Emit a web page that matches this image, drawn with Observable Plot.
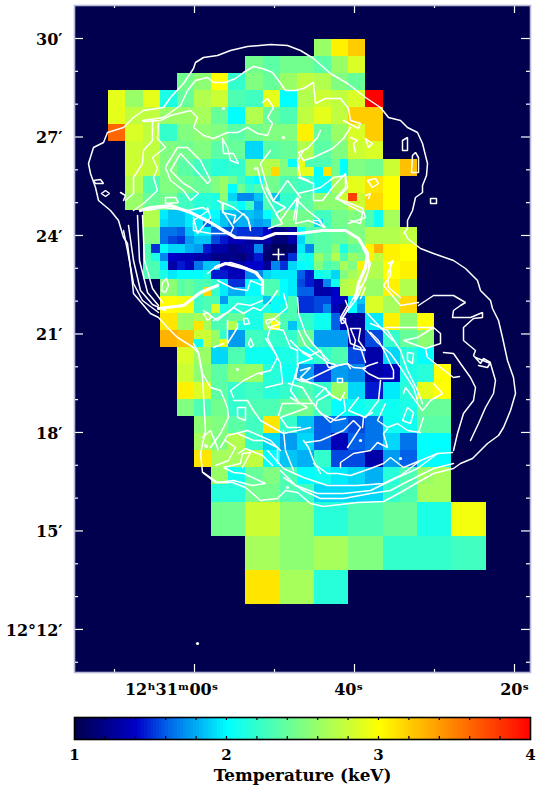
<!DOCTYPE html>
<html><head><meta charset="utf-8">
<script src="https://cdn.jsdelivr.net/npm/d3@7"></script>
<script src="https://cdn.jsdelivr.net/npm/@observablehq/plot@0.6"></script>
<style>html,body{margin:0;padding:0;background:#fff}svg{display:block}</style>
</head><body><div id="chart"></div>
<script>
// Temperature scale (keV)
const tempStops = [1, 1.2, 1.4, 1.6, 2, 2.5, 3, 3.5, 4];
const tempColors = ["#00004e", "#000088", "#0000c8", "#0060e8", "#00ffff", "#80ff80", "#ffff00", "#ff8000", "#ff0000"];
const barTicks = [1.2,1.4,1.6,1.8,2,2.2,2.4,2.6,2.8,3,3.2,3.4,3.6,3.8];
const barLabels = [1,2,3,4];

// Axis ticks: RA seconds past 12h30m, Dec arcminutes past 12 deg
const raMajor = [60, 40, 20];
const raMinor = [70, 50, 30];
const raText = ["12ʰ31ᵐ00ˢ", "40ˢ", "20ˢ"];
const raTextShift = [-23, -6, 0];
const decMajor = [30, 27, 24, 21, 18, 15, 12];
const decMinor = [29,28,26,25,23,22,20,19,17,16,14,13,11];
const decText = ["30′","27′","24′","21′","18′","15′","12°12′"];

// Spectral map bins: [row, first column, bin size, temperatures along the row]
const wideBins = [
 [0,12,1,[2.6,3.05,3.2]],
 [1,8,1,[2.45,2.35,2.45,2.45,2.35,2.6,2.85]],
 [2,4,1,[2.45,2.55,3.0,2.2,2.5,2.4,2.6,2.75,2.7,2.5,2.4]],
 [3,0,1,[2.9,2.6,2.9,2.1,2.4,2.7,2.8,2.3,2.25,2.9,2.0,2.7,2.8,2.75,2.85,4.0]],
 [4,0,1,[2.9,2.75,2.75,2.6,2.6,2.65,2.4,2.0,2.7,2.4,2.3,2.75,2.9,2.75,3.2,3.2]],
 [5,0,1,[3.6,2.85,2.75,2.2,2.5,2.55,2.5,2.35,2.45,2.5,2.5,3.05,2.4,2.6,2.85,3.2]],
 [6,1,1,[2.8,2.75,2.5,2.45,2.5,2.35,2.4,1.9,2.35,2.4,2.7,2.35,2.5,2.8,2.85]],
 [7,1,1,[2.8,2.75,2.5,2.35,2.25,2.15,2.2,2.6,2.7,2.5,2.9,2.3,2.45,2.5,2.45,2.8,3.25]],
 [8,1,1,[2.7,2.3,2.5,2.45,2.4,2.5,2.45,2.25,2.45,2.3,2.25,2.05,2.65,2.9,3.1,3.0]],
 [9,1,1,[2.6,2.4,2.45,2.25,2.15]],
 [9,10,1,[2.2,2.35,2.55,2.55,2.8,3.15,3.0]],
 [10,2,1,[2.7]],
 [10,10,1,[2.5,2.45,2.25,2.45,2.5]],
 [10,16,1,[2.65]],
 [11,2,1,[2.5]],
 [11,12,1,[2.35,2.4,2.5,2.7,2.7,2.75]],
 [12,16,1,[3.05,3.0]],
 [13,2,1,[2.3]],
 [13,15,1,[2.7,3.0,3.05]],
 [14,15,1,[2.6,3.05,2.7]],
 [15,3,1,[3.0,2.95]],
 [15,7,1,[2.15,2.1,2.3,2.1]],
 [15,15,1,[2.85,2.65,3.15]],
 [16,3,1,[3.1,2.6,2.65,2.3,2.4,2.1,2.6,2.3,2.2,2.05]],
 [16,14,1,[1.25,1.95,3.05,2.55,3.0]],
 [17,3,1,[3.3,3.25,2.8,2.6,1.75,2.25,2.2,2.2,2.4,1.75,1.75,1.25,1.55,2.2,2.4,2.55]],
 [18,4,1,[2.85,2.6,1.9,2.3,2.05,2.05,2.1,2.05,2.2,2.3,1.55,1.3,1.9,2.15,2.0]],
 [19,4,1,[2.8,2.55,2.35,2.55,2.6,2.15,2.05,1.75,1.5,1.75,1.7,1.3,1.35,2.1,2.15,3.0]],
 [20,4,1,[3.05,2.85,2.35,2.2,2.25,2.15,2.2,2.3,2.2,2.6,1.9,1.45,1.95,2.15,2.9,3.0]],
 [21,4,1,[2.5,2.3,2.45,2.2,2.3,2.3,2.4,2.45,2.25,2.0,2.05,2.1,2.05,2.1,2.4,2.4]],
 [22,5,1,[2.55,2.5,2.35,2.25,3.1,2.2,1.85,1.6,1.65,1.55,1.65,2.05,2.05,2.35,2.35]],
 [23,5,1,[2.65,2.5,2.7,2.2,1.9,1.75,1.9,1.6,1.35,1.6,1.65,1.9,1.65,2.0,2.0]],
 [24,5,1,[3.1,2.65,2.65,2.75,2.0,1.85,1.8,2.2,1.55,1.55,1.3,1.75,1.6,2.0,2.0]],
 [25,6,1,[2.6,2.05,2.4,2.5,2.3,2.0,2.05,1.95,1.9,1.8,2.15,2.3,2.6,2.65]],
 [26,6,1,[2.15,2.15,2.45,2.45,2.3,2.25,1.9,1.9,1.9,1.9,2.2,2.3,2.65,2.65]]
];
const largeBins = [
 [27,6,2,[2.45,2.8,2.55,2.15,2.3,2.4,2.1,2.95]],
 [29,8,2,[2.65,2.55,2.65,2.5,2.2,2.2,2.25]],
 [31,8,2,[3.1,2.65,2.15]]
];
const fineBins = [
 [7.5,9.5,.5,[3.15]],[7,10.5,.5,[2.0]],[7,11,.5,[2.9,2.3]],[7.5,12,.5,[2.0,3.1]],[7,13.5,.5,[2.0]],[7.5,13.5,.5,[2.0]],
 [8,6.5,.5,[2.6]],[8.5,6.5,.5,[2.6]],[8,7,.5,[2.45,2.25,2.1,2.0]],[8.5,7,.5,[2.0,2.45,2.2,2.3]],
 [9,6,.5,[2.1,2.55,1.9,1.7,1.7,1.85,2.3,1.85]],[9.5,6,.5,[2.1,2.3,2.15,2.0,2.25,1.75,2.3,2.2]],
 [9,14,.5,[3.75]],[9,13.5,.5,[2.8]],
 [10,3,.5,[1.95,1.85,1.85,1.95,1.95,2.0,2.0,1.85,1.85,1.8,1.85,1.8,2.0,2.2]],
 [10.5,3,.5,[1.9,1.85,1.85,1.95,1.95,1.6,1.95,1.85,1.75,1.8,1.8,1.75,1.8,2.35]],
 [10.5,12,.5,[1.9]],[10,15,.5,[2.3,2.05]],[10.5,15,.5,[2.3,2.05]],
 [11,3,.5,[1.65,1.65,1.6,1.85,1.95,1.95,1.6,1.55,1.55,1.5,1.5,1.5,1.4,1.2,1.2,1.3,2.0,2.3]],
 [11.5,3,.5,[1.65,1.55,1.5,1.75,1.85,1.85,1.55,1.45,1.35,1.35,1.25,1.25,1.3,1.15,1.15,1.3,1.9,2.3]],
 [12,2,.5,[2.3,1.5,2.0,1.9,1.9,1.8,1.75,1.45,1.3,1.3,1.2,1.25,1.3,1.7,1.15,1.05,1.05,1.1,1.95,1.7]],
 [12.5,2,.5,[2.3,2.1,1.7,1.4,1.35,1.35,1.3,1.3,1.2,1.2,1.2,1.15,1.25,1.45,1.1,1.05,1.15,1.5,2.1,2.05]],
 [12,12,.5,[2.35,2.35,2.55,2.1,2.35,2.4,3.05,3.3]],[12.5,12,.5,[2.6,2.4,2.7,2.3,2.6,2.5,3.05,2.75]],
 [13,3,.5,[1.95,1.3,1.45,1.35,1.65,1.85,1.85,1.35,1.3,1.3,1.4,1.4,1.25,1.7,1.5,1.9,2.0,2.05,2.5,2.3,2.35,2.65,2.5,3.05]],
 [13.5,3,.5,[2.1,1.95,2.0,2.0,2.0,2.1,1.45,1.45,1.35,1.35,1.7,1.7,1.9,1.95,1.95,1.95,1.6,1.45,2.05,2.1,1.9,2.5,2.65,2.75]],
 [14,3,.5,[2.55,2.55,2.35,2.4,2.3,2.3,2.2,1.95,1.5,1.5,2.0,2.0,2.3,2.3,2.0,1.95,1.55,1.45,1.3,1.7,2.05,2.7,2.75,2.75]],
 [14.5,3,.5,[2.55,2.55,2.35,2.4,2.3,3.15,2.2,1.95,1.8,1.8,2.0,2.0,2.3,2.3,2.0,1.95,1.6,1.6,1.3,1.3,1.4,2.7,2.75,2.75]],
 [15,5,.5,[2.25,2.3,2.3,1.75]],[15.5,5,.5,[2.25,2.3,2.85,2.1]],
 [15,9,.5,[1.85,2.05,2.0,2.3,1.5,1.5,1.55,1.55,1.4,1.35,2.0,1.85]],
 [15.5,9,.5,[2.1,2.0,2.1,2.3,1.5,1.5,1.55,1.7,1.35,1.2,2.0,1.75]],
 [16,13,.5,[1.6,1.3]],[16.5,13,.5,[1.6,1.3]],[16.5,5,.5,[3.1]],[16.5,7,.5,[2.7,2.1]],[16.5,9.5,.5,[3.0]],[16.5,10.5,.5,[1.85]],
 [17.5,5,.5,[2.05]],[17,6.5,.5,[2.2]],[17.5,6.5,.5,[2.9]]
];

// Contours: flat x,y lists in the pixel coordinates of the scanned map
const thickContours = [
 [140,210,150,207,170,205,190,212,210,222,218,227,235,237,262,238,275,233,298,233,322,230,345,230,358,238,367,253,365,267,358,283,355,298],
 [158,308,183,305,200,292,217,285],[215,267,225,263,245,268,255,272,262,280,262,293]
];
const contours = [
 [193,68,195,62,203,57,217,55,230,50,247,46,270,44,287,45,300,50,313,58,330,73,347,83,365,97,380,107,388,117,400,120,407,127,417,132,422,143,427,163,426,175,422,185,422,192,415,197,412,210,407,220,407,228,403,233,405,233,407,238,420,248,433,253,453,260,465,268,477,280,480,290,490,300,492,308,498,320,502,337,507,360,513,377,515,393,510,410,503,427,498,435,487,443,472,458,460,463,453,468,433,473,417,482,400,492,383,501,357,502,323,506,310,503,297,492,285,490,277,498,260,500,245,487,232,482,215,482,202,472,200,453,205,430,202,377,198,353,193,347,177,337,167,327,158,317,150,313,133,293,132,283,127,243,123,237,118,220,110,210,98,200,95,187,90,173,88,163,93,147,103,142,107,132,123,127,133,117,143,110,163,107,170,97,183,83,193,68],
 [142,120,163,117,180,105,187,90,195,80,207,77,213,82,225,82,235,78,243,72,253,66,262,68,272,72,278,80,285,90,295,90,303,88,313,82,315,103,325,98,340,98,348,108,350,120,360,123,358,128,343,120],
 [143,121,160,120,170,115,190,110,197,117,193,127,203,135,213,138,227,132,237,132,247,127,257,133,267,135,272,123,267,117,273,107,267,98,262,102],
 [152,120,152,140,143,150,142,163,133,177,133,193,125,200],
 [158,123,157,138,165,147,152,157,157,168,153,177,157,190,143,203,133,210],
 [167,163,177,147,187,147,200,160,210,180,207,183,193,167,180,153,170,170,183,183,190,187,198,193,190,200,183,190,170,180,165,167,167,163],
 [165,197,175,197,178,202,165,203,165,197],
 [222,138,223,153,233,153,238,163,230,160,227,147,222,138],
 [270,150,260,163,267,187,273,200,287,180,300,197],
 [147,210,163,207,187,210,202,207,208,210,193,220,193,230,210,233,230,233,233,227,222,210,222,202,233,207,247,217,250,227],
 [320,130,317,137,307,148,298,152,303,160,313,157,332,148,343,138,350,127],
 [402,140,407,137,407,150,402,150,402,140],[412,155,415,152,418,157,418,172,411,172,412,155],[430,198,436,198,436,203,430,203,430,198],
 [350,137,357,140,353,143,355,152],[365,138,372,143,368,147,365,138],
 [297,193,310,190,320,187,333,177,345,175,347,187,337,198,345,203,362,212,360,223,350,220],
 [367,180,375,178,378,183,372,187,367,180],[365,195,370,193,368,198],[297,200,307,210,320,220,323,227],
 [123,230,127,250,133,283,142,300,158,312],[128,225,133,260,140,290,152,304,165,310],[137,215,139,260,147,292,158,305],[142,215,144,260,152,288,162,302],
 [93,180,100,179,103,183,95,183,93,180],[101,193,105,190,109,193,105,196,101,193],[120,192,125,195,123,200],
 [217,265,230,262,240,265,257,272,260,278],[207,273,217,265],
 [358,237,368,253,368,270,362,285,357,297,345,313,340,320],[362,247,370,263,365,280,355,293,348,307,342,318],
 [370,323,387,330,400,350,407,370,417,390,422,403],[367,330,377,342,390,353,400,367,413,387,417,400],
 [418,305,433,295,453,295,465,302,460,305,453,310,452,317,470,317,482,312,482,317,473,318,463,327,463,340,475,350,473,355,480,363,483,358,490,362,487,367,478,365],
 [385,327,407,327,433,327,440,333,440,343,425,348,403,340,417,337,433,327],
 [425,348,427,357,440,367,453,377,459,376],[443,352,453,353,460,363,470,377,475,387,473,400,463,413,457,433,453,450],
 [475,357,490,363,495,380,493,393,485,407,478,423,470,440],
 [203,472,217,482,233,480,252,485,265,483,243,473,233,472,223,467,240,463,242,453,250,452,242,467],
 [280,470,295,485,317,493,343,493,370,490,397,477,417,468,437,453,452,452],
 [283,477,303,490,320,498,343,498,370,493,390,490,403,483,433,468,453,463],
 [267,450,283,468,303,477,327,485,357,485,383,483,400,475,420,460,437,453],
 [313,463,327,473,337,473,350,475,370,468,383,463,390,457,403,467,420,460],
 [340,467,340,462,353,453,370,450,377,442,387,447,383,433,387,428],
 [283,430,285,450,293,470],[303,440,308,447,313,460,320,473],
 [202,437,210,430,218,450,213,437],[237,433,253,440,263,440,277,447,277,463],
 [166,278,168,285,165,292,161,290,162,282,166,278],
 [203,313,207,312,211,317,207,320,203,313],[243,318,247,318,249,323,244,324,243,318],[250,338,253,345,250,347,248,343,250,338],
 [193,343,198,352,202,373,210,387,220,390,227,407,228,417,220,433,210,447],
 [213,320,230,310,237,303,250,305,262,300],[227,320,227,343,237,327,237,323],
 [233,397,230,390,243,380,257,373,270,370,277,357,267,337,270,327,283,330,290,347,297,350,297,367,290,390,297,400],
 [233,400,247,400,253,410,260,420,283,433,297,430,310,427],
 [220,447,227,435,247,430,270,440,280,450],[237,407,245,407,245,420,237,417,237,407],
 [350,328,360,328,358,340,365,350,353,348,355,340,350,328],[340,318,345,318,345,322,341,323,340,318],
 [370,332,378,340,385,353,393,370,393,378,378,378,368,373,362,368,368,365,377,362],
 [298,330,305,345,315,353,327,362,337,365,347,363,353,367,365,368],
 [302,352,312,358,298,363,295,378,305,380,312,377,337,365],[337,378,342,378,342,382,337,382,337,378],
 [315,397,325,387,328,393,340,400,344,392],[313,403,320,413,335,420,345,418],[358,397,348,410,365,417,378,400,380,380],
 [288,383,302,387,312,403,298,403,282,403,278,415],[265,338,275,353,280,363,282,383,265,387],
 [297,297,298,313,305,333,312,343,328,360],[283,293,287,307,275,317,268,323],
 [217,200,223,203,222,212,235,215,233,223,243,213,248,220,250,230],
 [193,217,197,233,210,217,207,207],
 [257,167,260,180,262,187,267,198,280,220,287,210,297,197,293,220],
 [303,150,297,160,300,177,308,180],
 [265,187,272,200,285,207,275,213,282,223,268,228],
 [298,198,295,223,308,220,325,227,318,220,313,220],
 [298,177,313,183,313,200,322,200,332,187,345,173,345,187,335,198,348,202,362,208,365,217,348,223],
 [388,263,393,260,387,273,388,287,400,297],[365,287,360,298],
 [390,263,390,275,383,285,390,293,400,305,418,302],
 [345,300,347,305,340,317,345,322,347,327,350,343,360,347,365,362],
 [367,313,380,327,392,340],
 [407,352,413,353,412,363,407,360,407,352],
 [403,393,405,387,417,403,422,410,430,400,442,393,433,383],
 [423,417,418,432],[407,407,402,420,410,423,413,412,407,407],
 [385,403,377,420,387,427,397,423,407,430,420,432],[362,427,363,417,372,412],
 [290,340,300,350,310,355,320,350,328,367,347,363,350,368],
 [297,380,310,382,323,387,330,393,317,400,315,407,330,422,345,410,343,397],
 [305,442,320,440,343,430,353,420,360,427,347,447],
 [203,310,217,320,233,307,243,313,253,307,260,310,270,300,277,290],
 [217,280,233,288,247,290,250,280,262,285],
 [265,320,273,318,280,323,268,327,265,320],[213,347,223,343],
 [300,370,310,367,300,377,310,383],[290,397,307,407,280,417,287,427,300,427],
 [238,453,245,448,262,455,272,465],[225,440,235,447,228,460,215,465]
];
const specks = [[197,643],[400,458],[205,445],[287,487],[237,369],[261,373],[206,446],[360,440],[283,137],[223,108],[255,168]];
const sourceMark = [[278,254]];

// Map pixel to sky coordinate
const raOf = px => 60 - (px - 194) / 8;
const decOf = py => 30 - (py - 38) / 32.83;
const gridX = c => 108.2 + 17.15 * c;
const gridY = r => 38.5 + 17.15 * r;

const bins = [...wideBins, ...largeBins, ...fineBins].flatMap(([row, col, size, temps]) =>
  temps.map((t, i) => ({
    x1: raOf(gridX(col + i * size)), x2: raOf(gridX(col + (i + 1) * size)),
    y1: decOf(gridY(row)), y2: decOf(gridY(row + size)), t
  })));
const toPoints = list => list.flatMap((flat, id) => d3.range(0, flat.length, 2).map(i => ({
  id, ra: raOf(flat[i]), dec: decOf(flat[i + 1])
})));

const colorScale = {type: "linear", domain: tempStops, range: tempColors, interpolate: "rgb", clamp: true};
const font = "'DejaVu Serif', serif";
const lav = "#b6b8d6";
const raL = raOf(74), raR = raOf(530), decT = decOf(5), decB = decOf(672);
const tx = {fill: "#000", fontFamily: font, fontWeight: "bold", fontSize: 16};

const map = Plot.plot({
  width: 536, height: 707, marginLeft: 74, marginRight: 6, marginTop: 5, marginBottom: 35,
  style: {background: "#fff"},
  x: {domain: [raL, raR], range: [74, 530], axis: null},
  y: {domain: [decB, decT], range: [672, 5], axis: null},
  color: colorScale,
  marks: [
    Plot.frame({fill: tempColors[0], stroke: null}),
    Plot.rect(bins, {x1: "x1", x2: "x2", y1: "y1", y2: "y2", fill: "t", shapeRendering: "crispEdges"}),
    Plot.line(toPoints(contours), {x: "ra", y: "dec", z: "id", stroke: "#fff", strokeWidth: 1.5, curve: "linear", strokeLinejoin: "miter"}),
    Plot.line(toPoints(thickContours), {x: "ra", y: "dec", z: "id", stroke: "#fff", strokeWidth: 3.2, curve: "linear"}),
    Plot.dot(specks, {x: d => raOf(d[0]), y: d => decOf(d[1]), r: 1.6, fill: "#fff", stroke: null}),
    Plot.dot(sourceMark, {x: d => raOf(d[0]), y: d => decOf(d[1]), symbol: "plus", r: 4, stroke: "#fff", strokeWidth: 1.6}),
    // inward ticks on all four sides
    Plot.ruleY(decMajor, {y: d => d, x1: raL, x2: raOf(83), stroke: "#fff", strokeWidth: 1.2}),
    Plot.ruleY(decMinor, {y: d => d, x1: raL, x2: raOf(78), stroke: "#fff", strokeWidth: 1.2}),
    Plot.ruleY(decMajor, {y: d => d, x1: raR, x2: raOf(521), stroke: "#fff", strokeWidth: 1.2}),
    Plot.ruleY(decMinor, {y: d => d, x1: raR, x2: raOf(526), stroke: "#fff", strokeWidth: 1.2}),
    Plot.ruleX(raMajor, {x: d => d, y1: decB, y2: decOf(664), stroke: "#fff", strokeWidth: 1.2}),
    Plot.ruleX(raMinor, {x: d => d, y1: decB, y2: decOf(669), stroke: "#fff", strokeWidth: 1.2}),
    Plot.ruleX(raMajor, {x: d => d, y1: decT, y2: decOf(13), stroke: "#fff", strokeWidth: 1.2}),
    Plot.ruleX(raMinor, {x: d => d, y1: decT, y2: decOf(8), stroke: "#fff", strokeWidth: 1.2}),
    Plot.frame({stroke: lav, strokeWidth: 1.6}),
    Plot.text(decMajor, {y: d => d, text: (d, i) => decText[i], frameAnchor: "left", dx: -12, dy: 1, textAnchor: "end", ...tx}),
    ...raMajor.map((d, i) => Plot.text([d], {x: v => v, text: () => raText[i], frameAnchor: "bottom", dy: 22, dx: raTextShift[i], ...tx}))
  ]
});

const barCells = d3.range(1, 4, 0.02);
const bar = Plot.plot({
  width: 536, height: 93, marginLeft: 74, marginRight: 6, marginTop: 10, marginBottom: 61,
  style: {background: "#fff"},
  x: {domain: [1, 4], range: [74, 530], axis: null},
  y: {domain: [0, 1], axis: null},
  color: colorScale,
  marks: [
    Plot.rect(barCells, {x1: d => d, x2: d => d + 0.02, y1: 0, y2: 1, fill: d => d, shapeRendering: "crispEdges"}),
    Plot.ruleX(barTicks, {x: d => d, y1: 0, y2: 0.14, stroke: "#000", strokeWidth: 1.2}),
    Plot.ruleX(barTicks, {x: d => d, y1: 1, y2: 0.86, stroke: "#000", strokeWidth: 1.2}),
    Plot.frame({stroke: "#000", strokeWidth: 1.6}),
    Plot.text(barLabels, {x: d => d, text: d => String(d), frameAnchor: "bottom", dy: 20, ...tx, fontSize: 15}),
    Plot.text(["Temperature (keV)"], {x: () => 2.5, text: d => d, frameAnchor: "bottom", dy: 41, ...tx, fontSize: 16.8})
  ]
});
const host = document.getElementById("chart");
host.append(map, bar);
</script>
</body></html>
